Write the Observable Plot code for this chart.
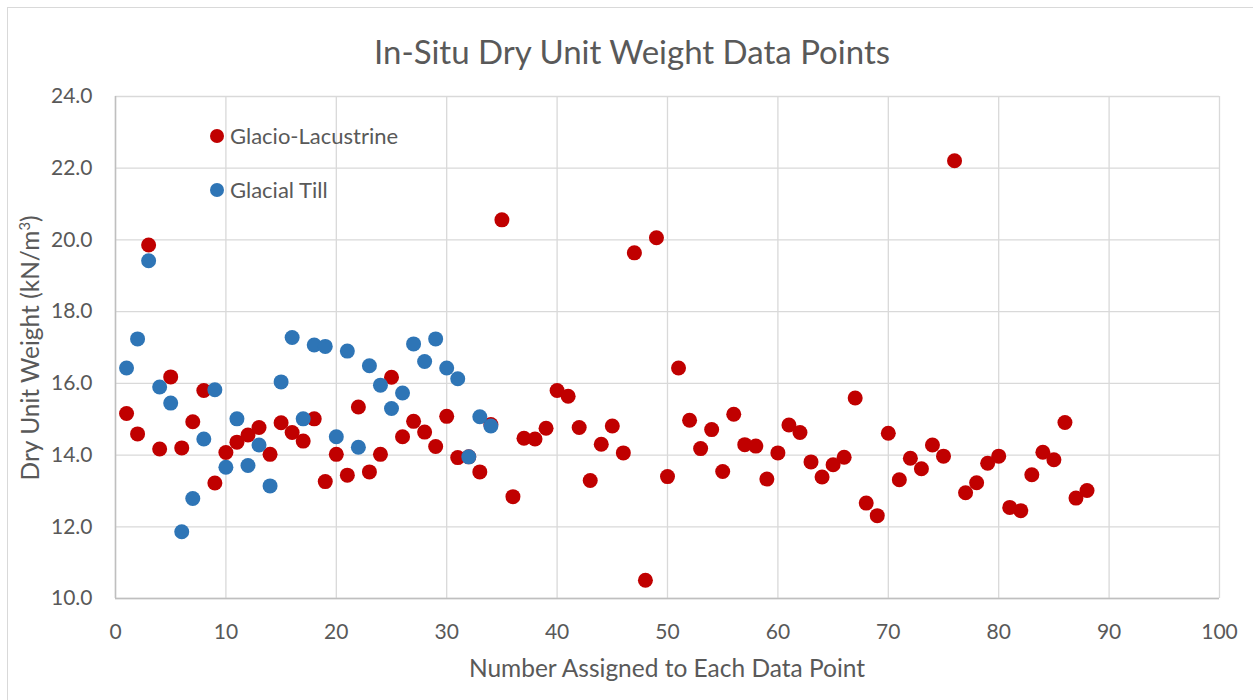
<!DOCTYPE html>
<html>
<head>
<meta charset="utf-8">
<script src="https://cdn.jsdelivr.net/npm/d3@7"></script>
<script src="https://cdn.jsdelivr.net/npm/@observablehq/plot@0.6"></script>
<style>
  html, body { margin: 0; padding: 0; background: #fff; }
  #wrap { position: relative; width: 1253px; height: 700px; font-family: Lato, "Open Sans", sans-serif; color: #595959; overflow: hidden; }
  #border { position: absolute; left: 7px; top: 7px; width: 1300px; height: 800px; border-left: 1px solid #D9D9D9; border-top: 1px solid #D9D9D9; }
  #chart { position: absolute; left: 0; top: 0; }
  #title { position: absolute; left: 0; width: 1264px; top: 31px; text-align: center; font-size: 33px; line-height: 40px; }
  .legend { position: absolute; left: 210px; font-size: 22px; line-height: 24px; display: flex; align-items: center; }
  .legend span.dot { display: inline-block; width: 14px; height: 14px; border-radius: 50%; margin-right: 6px; }
  #xlabel { position: absolute; left: 0; width: 1334px; top: 653px; text-align: center; font-size: 24.5px; line-height: 30px; }
  #ylabel { position: absolute; left: 30px; top: 348px; transform: translate(-50%, -50%) rotate(-90deg); white-space: nowrap; font-size: 24.5px; line-height: 30px; }
</style>
</head>
<body>
<div id="wrap">
  <div id="border"></div>
  <div id="chart"></div>
  <div id="title">In-Situ Dry Unit Weight Data Points</div>
  <div class="legend" id="leg1" style="top:124px"><span class="dot" style="background:#C00000"></span>Glacio-Lacustrine</div>
  <div class="legend" id="leg2" style="top:178px"><span class="dot" style="background:#2E75B6"></span>Glacial Till</div>
  <div id="xlabel">Number Assigned to Each Data Point</div>
  <div id="ylabel">Dry Unit Weight (kN/m<sup style="font-size:0.6em;vertical-align:super;line-height:0">3</sup>)</div>
</div>
<script>
// Series values (dry unit weight, kN/m^3), indexed by data point number starting at 1
const seriesNames = ["Glacio-Lacustrine", "Glacial Till"];
const seriesColors = ["#C00000", "#2E75B6"];
const lacustrineValues = [
  15.16, 14.59, 19.86, 14.17, 16.18, 14.20, 14.93, 15.80, 13.22, 14.07,
  14.36, 14.56, 14.77, 14.02, 14.90, 14.63, 14.39, 15.01, 13.26, 14.02,
  13.44, 15.34, 13.53, 14.02, 16.17, 14.51, 14.94, 14.64, 14.24, 15.08,
  13.93, 13.95, 13.53, 14.85, 20.56, 12.84, 14.47, 14.45, 14.75, 15.80,
  15.64, 14.77, 13.29, 14.30, 14.81, 14.06, 19.64, 10.51, 20.06, 13.40,
  16.43, 14.97, 14.18, 14.71, 13.54, 15.14, 14.29, 14.25, 13.33, 14.06,
  14.84, 14.63, 13.81, 13.39, 13.73, 13.94, 15.59, 12.66, 12.31, 14.61,
  13.31, 13.91, 13.62, 14.28, 13.97, 22.21, 12.95, 13.23, 13.77, 13.97,
  12.54, 12.45, 13.45, 14.08, 13.87, 14.91, 12.80, 13.01
];
const tillValues = [
  16.43, 17.24, 19.42, 15.90, 15.45, 11.86, 12.79, 14.45, 15.82, 13.66,
  15.01, 13.71, 14.28, 13.14, 16.04, 17.28, 15.01, 17.07, 17.03, 14.51,
  16.90, 14.22, 16.49, 15.95, 15.30, 15.73, 17.10, 16.61, 17.24, 16.43,
  16.13, 13.95, 15.07, 14.81
];
const xTicks = [0, 10, 20, 30, 40, 50, 60, 70, 80, 90, 100];
const yTicks = [10, 12, 14, 16, 18, 20, 22, 24];

const lacustrine = lacustrineValues.map((v, i) => ({n: i + 1, v}));
const till = tillValues.map((v, i) => ({n: i + 1, v}));

const chart = Plot.plot({
  width: 1253,
  height: 700,
  marginLeft: 115,
  marginRight: 34,
  marginTop: 96,
  marginBottom: 102,
  style: {fontFamily: "Lato, 'Open Sans', sans-serif", fontSize: "21px", color: "#595959", background: "transparent"},
  x: {domain: [0, 100]},
  y: {domain: [10, 24]},
  marks: [
    Plot.gridX(xTicks, {stroke: "#D9D9D9", strokeOpacity: 1, strokeWidth: 1.3}),
    Plot.gridY(yTicks, {stroke: "#D9D9D9", strokeOpacity: 1, strokeWidth: 1.3}),
    Plot.ruleX([0], {stroke: "#BFBFBF", strokeWidth: 1.5}),
    Plot.ruleY([10], {stroke: "#BFBFBF", strokeWidth: 1.5}),
    Plot.axisX(xTicks, {tickSize: 0, tickPadding: 26, label: null, fill: "#595959", fontSize: 21}),
    Plot.axisY(yTicks, {tickSize: 0, tickPadding: 23, label: null, tickFormat: d3.format(".1f"), fill: "#595959", fontSize: 21}),
    Plot.dot(lacustrine, {x: "n", y: "v", r: 7.5, fill: seriesColors[0], stroke: null}),
    Plot.dot(till, {x: "n", y: "v", r: 7.5, fill: seriesColors[1], stroke: null})
  ]
});
document.getElementById("chart").appendChild(chart);
</script>
</body>
</html>
